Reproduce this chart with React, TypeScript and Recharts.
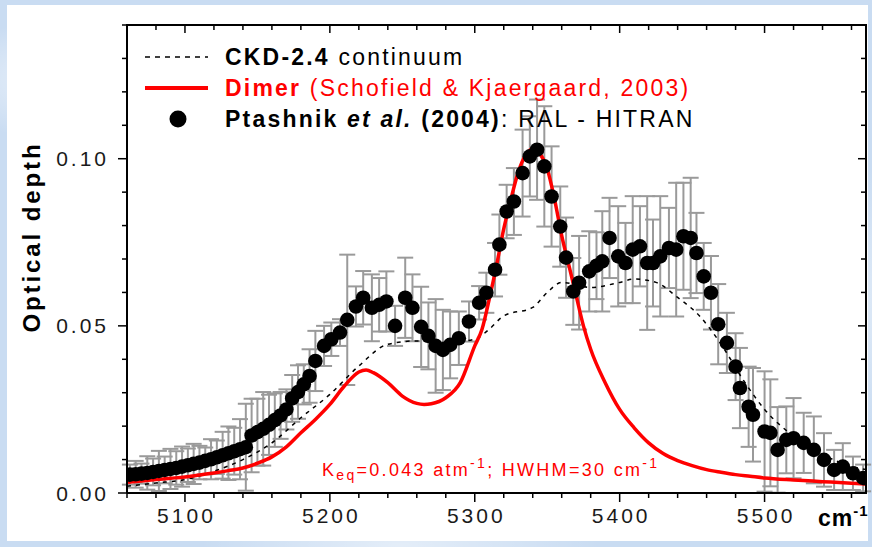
import React from 'react';
import { ComposedChart, Line, Scatter, XAxis, YAxis, ErrorBar } from 'recharts';

// Dimer band model (Schofield & Kjaergaard, 2003): wavenumber (cm-1) and optical depth
const dimerNu = [5060, 5070, 5080, 5090, 5100, 5110, 5120, 5130, 5140, 5150, 5160, 5170, 5180, 5190, 5200, 5210, 5220, 5225, 5230, 5240, 5250, 5260, 5265, 5270, 5280, 5290, 5300, 5305, 5310, 5315, 5320, 5325, 5330, 5335, 5340, 5345, 5350, 5355, 5360, 5365, 5370, 5375, 5380, 5390, 5400, 5410, 5420, 5430, 5440, 5450, 5460, 5470, 5480, 5490, 5500, 5520, 5540, 5560, 5570];
const dimerTau = [0.0032, 0.0036, 0.004, 0.0044, 0.0048, 0.0054, 0.006, 0.0067, 0.0075, 0.0089, 0.0108, 0.0138, 0.018, 0.022, 0.0265, 0.032, 0.0362, 0.0368, 0.036, 0.033, 0.029, 0.0268, 0.0265, 0.0267, 0.0285, 0.033, 0.044, 0.049, 0.058, 0.068, 0.079, 0.088, 0.096, 0.101, 0.103, 0.1015, 0.097, 0.088, 0.077, 0.068, 0.059, 0.05, 0.043, 0.033, 0.025, 0.0195, 0.015, 0.0118, 0.0097, 0.0082, 0.007, 0.0062, 0.0055, 0.005, 0.0045, 0.0039, 0.0034, 0.0029, 0.0027];

// CKD-2.4 continuum
const ckdNu = [5060, 5080, 5100, 5120, 5140, 5160, 5180, 5200, 5220, 5240, 5260, 5280, 5300, 5310, 5320, 5340, 5350, 5360, 5380, 5400, 5410, 5425, 5440, 5455, 5470, 5485, 5500, 5520, 5540, 5560, 5570];
const ckdTau = [0.002, 0.003, 0.004, 0.0065, 0.01, 0.015, 0.0225, 0.0295, 0.038, 0.0445, 0.0455, 0.045, 0.046, 0.049, 0.053, 0.0555, 0.06, 0.063, 0.0615, 0.063, 0.064, 0.063, 0.0585, 0.053, 0.0445, 0.034, 0.025, 0.017, 0.0115, 0.008, 0.007];

// Ptashnik et al. (2004): RAL - HITRAN retrieval with uncertainties
const ptNu = [5062, 5066, 5070, 5074, 5078, 5082, 5086, 5090, 5094, 5098, 5102, 5106, 5110, 5114, 5118, 5122, 5126, 5130, 5134, 5138, 5142, 5146, 5150, 5154, 5158, 5162, 5166, 5170, 5174, 5178, 5182, 5186, 5190, 5196, 5201, 5207, 5212, 5218, 5223, 5229, 5234, 5239, 5245, 5252, 5257, 5263, 5268, 5273, 5278, 5283, 5289, 5296, 5303, 5308, 5314, 5317, 5322, 5327, 5333, 5338, 5343, 5348, 5353, 5359, 5363, 5368, 5372, 5379, 5384, 5388, 5393, 5399, 5404, 5409, 5414, 5419, 5423, 5428, 5434, 5439, 5444, 5449, 5453, 5458, 5463, 5468, 5474, 5480, 5483, 5489, 5492, 5500, 5504, 5509, 5515, 5520, 5527, 5534, 5541, 5548, 5554, 5561, 5568];
const ptTau = [0.0055, 0.0056, 0.0058, 0.006, 0.0063, 0.0066, 0.0069, 0.0072, 0.0075, 0.0079, 0.0083, 0.0087, 0.0091, 0.0096, 0.0101, 0.0107, 0.0113, 0.0119, 0.0125, 0.0131, 0.0137, 0.0172, 0.0182, 0.0192, 0.0204, 0.0218, 0.0232, 0.025, 0.0283, 0.0302, 0.0325, 0.035, 0.0395, 0.044, 0.046, 0.048, 0.0518, 0.0558, 0.0584, 0.0554, 0.0563, 0.0573, 0.05, 0.0584, 0.0554, 0.0497, 0.047, 0.044, 0.0428, 0.0443, 0.0463, 0.0513, 0.0569, 0.0599, 0.0668, 0.0743, 0.0842, 0.0872, 0.0957, 0.1007, 0.1027, 0.0977, 0.0887, 0.0797, 0.0704, 0.0603, 0.0629, 0.0663, 0.068, 0.0693, 0.0763, 0.0708, 0.0688, 0.0728, 0.0738, 0.0688, 0.0688, 0.0708, 0.0733, 0.0728, 0.0768, 0.0763, 0.0718, 0.0648, 0.0599, 0.0505, 0.0449, 0.0378, 0.0314, 0.0258, 0.0234, 0.0184, 0.018, 0.0129, 0.0159, 0.0164, 0.015, 0.0129, 0.0099, 0.0069, 0.0079, 0.0059, 0.0045];
const ptErr = [0.003, 0.004, 0.003, 0.005, 0.004, 0.006, 0.004, 0.006, 0.005, 0.006, 0.005, 0.006, 0.005, 0.004, 0.006, 0.005, 0.007, 0.008, 0.007, 0.009, 0.013, 0.011, 0.01, 0.011, 0.009, 0.008, 0.007, 0.006, 0.007, 0.008, 0.006, 0.008, 0.009, 0.006, 0.005, 0.004, 0.0195, 0.006, 0.008, 0.01, 0.008, 0.009, 0.006, 0.012, 0.01, 0.012, 0.01, 0.014, 0.012, 0.01, 0.008, 0.006, 0.005, 0.006, 0.008, 0.009, 0.008, 0.01, 0.013, 0.012, 0.015, 0.018, 0.015, 0.012, 0.012, 0.01, 0.014, 0.012, 0.01, 0.015, 0.012, 0.015, 0.012, 0.016, 0.012, 0.02, 0.013, 0.018, 0.012, 0.02, 0.016, 0.018, 0.012, 0.01, 0.011, 0.012, 0.009, 0.01, 0.012, 0.012, 0.014, 0.018, 0.016, 0.0128, 0.01, 0.012, 0.009, 0.01, 0.008, 0.006, 0.007, 0.005, 0.004];

// Axis ticks
const xMajor = [5100, 5200, 5300, 5400, 5500];
const xTicks = [5060, 5080, 5100, 5120, 5140, 5160, 5180, 5200, 5220, 5240, 5260, 5280, 5300, 5320, 5340, 5360, 5380, 5400, 5420, 5440, 5460, 5480, 5500, 5520, 5540, 5560];
const yMajor = [0, 0.05, 0.1];
const yTicks = [0, 0.01, 0.02, 0.03, 0.04, 0.05, 0.06, 0.07, 0.08, 0.09, 0.1, 0.11, 0.12, 0.13, 0.14];
const yLabels = ['0.00', '0.05', '0.10'];

const FONT = '"Liberation Sans", Arial, sans-serif';
const X_MIN = 5060;
const X_MAX = 5570;
const Y_MIN = 0;
const Y_MAX = 0.14;

// Chart box and plot margins; the plot is the box minus the axis bands
const CHART_W = 872;
const CHART_H = 547;
const MARGIN = { top: 25, right: 6, bottom: 0, left: 0 };
const X_AXIS_H = 54;
const Y_AXIS_W = 127;
const PLOT_L = MARGIN.left + Y_AXIS_W;
const PLOT_T = MARGIN.top;
const PLOT_W = CHART_W - MARGIN.left - MARGIN.right - Y_AXIS_W;
const PLOT_H = CHART_H - MARGIN.top - MARGIN.bottom - X_AXIS_H;

const dimerData = dimerNu.map((nu, i) => ({ nu, tau: dimerTau[i] }));
const ckdData = ckdNu.map((nu, i) => ({ nu, tau: ckdTau[i] }));
const ptData = ptNu.map((nu, i) => ({ nu, tau: ptTau[i], err: ptErr[i] }));

const isMajorX = (v: number) => xMajor.includes(v);
const near = (a: number, b: number) => Math.abs(a - b) < 1e-9;
const isMajorY = (v: number) => yMajor.some((m) => near(m, v));

const BottomTick = (props: any) => {
  const { x, y, payload } = props;
  const major = isMajorX(payload.value);
  return (
    <g>
      <line x1={x} x2={x} y1={y} y2={Number(y) + (major ? 9 : 5)} stroke="#000" strokeWidth={1.5} />
      {major && (
        <text x={Number(x) + 1.5} y={Number(y) + 30} textAnchor="middle" fontFamily={FONT} fontSize={21} letterSpacing={3} fill="#1a1a1a">
          {payload.value}
        </text>
      )}
    </g>
  );
};

const LeftTick = (props: any) => {
  const { x, y, payload } = props;
  const idx = yMajor.findIndex((m) => near(m, payload.value));
  const major = idx >= 0;
  return (
    <g>
      <line x1={x} x2={Number(x) - (major ? 9 : 5)} y1={y} y2={y} stroke="#000" strokeWidth={1.5} />
      {major && (
        <text x={Number(x) - 18} y={y} dy="0.36em" textAnchor="end" fontFamily={FONT} fontSize={21} letterSpacing={3} fill="#1a1a1a">
          {yLabels[idx]}
        </text>
      )}
    </g>
  );
};

const Dot = (props: any) => {
  const { cx, cy } = props;
  if (cx == null || cy == null) return <g />;
  return <circle cx={cx} cy={cy} r={7.3} fill="#000" />;
};

const NoShape = () => <g />;

// Position of a tick on the top / right frame edges, in the plot's linear frame
const frameX = (v: number) => PLOT_L + ((v - X_MIN) / (X_MAX - X_MIN)) * PLOT_W;
const frameY = (v: number) => PLOT_T + PLOT_H - ((v - Y_MIN) / (Y_MAX - Y_MIN)) * PLOT_H;

// Box frame (top and right edges with inward ticks), legend, annotation and axis titles
const Overlay = () => (
  <svg width={CHART_W} height={CHART_H} style={{ position: 'absolute', left: 0, top: 0, pointerEvents: 'none' }}>
    <g stroke="#000" fill="none">
      <polyline points={`${PLOT_L - 1},${PLOT_T} ${PLOT_L + PLOT_W},${PLOT_T} ${PLOT_L + PLOT_W},${PLOT_T + PLOT_H + 1}`} strokeWidth={2} />
      {xTicks.map((v) => (
        <line key={`t${v}`} x1={frameX(v)} x2={frameX(v)} y1={PLOT_T} y2={PLOT_T + (isMajorX(v) ? 8 : 5)} strokeWidth={1.5} />
      ))}
      {yTicks.map((v) => (
        <line key={`r${v}`} x1={PLOT_L + PLOT_W} x2={PLOT_L + PLOT_W - (isMajorY(v) ? 8 : 5)} y1={frameY(v)} y2={frameY(v)} strokeWidth={1.5} />
      ))}
    </g>
    <g fontFamily={FONT} fontSize={23} letterSpacing={2.2}>
      <line x1={145} x2={208} y1={57} y2={57} stroke="#000" strokeWidth={1.6} strokeDasharray="5 5" />
      <text x={225} y={65} fill="#000">
        <tspan fontWeight="bold">CKD-2.4</tspan>
        <tspan> continuum</tspan>
      </text>
      <line x1={145} x2={208} y1={88} y2={88} stroke="#ff0000" strokeWidth={4} />
      <text x={225} y={96} fill="#ff0000">
        <tspan fontWeight="bold">Dimer</tspan>
        <tspan> (Schofield &amp; Kjaergaard, 2003)</tspan>
      </text>
      <circle cx={178} cy={119} r={8.5} fill="#000" />
      <text x={225} y={127} fill="#000">
        <tspan fontWeight="bold">Ptashnik </tspan>
        <tspan fontWeight="bold" fontStyle="italic">et al.</tspan>
        <tspan fontWeight="bold"> (2004)</tspan>
        <tspan>:  RAL - HITRAN</tspan>
      </text>
    </g>
    <text x={322} y={476} fontFamily={FONT} fontSize={18} letterSpacing={2.3} fill="#ff0000">
      <tspan>K</tspan>
      <tspan fontSize={14} dy={4}>eq</tspan>
      <tspan dy={-4}>=0.043 atm</tspan>
      <tspan fontSize={14} dy={-8}>-1</tspan>
      <tspan dy={8}>; HWHM=30 cm</tspan>
      <tspan fontSize={14} dy={-8}>-1</tspan>
    </text>
    <text x={32} y={237} transform="rotate(-90 32 237)" textAnchor="middle" fontFamily={FONT} fontSize={24} fontWeight="bold" letterSpacing={2.9} fill="#000" dy="0.35em">
      Optical depth
    </text>
    <text x={818} y={526} fontFamily={FONT} fontSize={23} fontWeight="bold" letterSpacing={1} fill="#000">
      cm<tspan fontSize={15} dy={-10}>-1</tspan>
    </text>
  </svg>
);

export default function App() {
  return (
    <div
      style={{
        position: 'absolute',
        left: 0,
        top: 0,
        width: CHART_W,
        height: CHART_H,
        overflow: 'hidden',
        background:
          'radial-gradient(ellipse 120px 60px at 60px 80px, rgba(255,255,255,0.6), transparent), radial-gradient(ellipse 90px 140px at 840px 300px, rgba(255,255,255,0.5), transparent), radial-gradient(ellipse 200px 40px at 400px 545px, rgba(255,255,255,0.5), transparent), #c9dcf2',
      }}
    >
      <div style={{ position: 'absolute', left: 7, top: 5, width: 861, height: 536, background: '#fff' }} />
      <div style={{ position: 'absolute', left: 0, top: 0 }}>
        <ComposedChart width={CHART_W} height={CHART_H} margin={MARGIN}>
          <XAxis
            xAxisId="b"
            type="number"
            dataKey="nu"
            orientation="bottom"
            domain={[X_MIN, X_MAX]}
            allowDataOverflow
            ticks={xTicks}
            interval={0}
            height={X_AXIS_H}
            tickSize={0}
            tickMargin={0}
            tick={BottomTick}
            tickLine={false}
            axisLine={{ stroke: '#000', strokeWidth: 2 }}
          />
          <YAxis
            yAxisId="l"
            type="number"
            dataKey="tau"
            orientation="left"
            domain={[Y_MIN, Y_MAX]}
            allowDataOverflow
            ticks={yTicks}
            interval={0}
            width={Y_AXIS_W}
            tickSize={0}
            tickMargin={0}
            tick={LeftTick}
            tickLine={false}
            axisLine={{ stroke: '#000', strokeWidth: 2 }}
          />
          <Scatter
            name="errors"
            data={ptData}
            xAxisId="b"
            yAxisId="l"
            dataKey="tau"
            shape={NoShape}
            isAnimationActive={false}
            legendType="none"
          >
            <ErrorBar dataKey="err" direction="y" width={8} stroke="#9a9a9a" strokeWidth={2} isAnimationActive={false} />
          </Scatter>
          <Line
            name="CKD-2.4 continuum"
            data={ckdData}
            xAxisId="b"
            yAxisId="l"
            dataKey="tau"
            type="monotone"
            stroke="#000"
            strokeWidth={1.5}
            strokeDasharray="4 5"
            dot={false}
            isAnimationActive={false}
          />
          <Line
            name="Dimer"
            data={dimerData}
            xAxisId="b"
            yAxisId="l"
            dataKey="tau"
            type="monotone"
            stroke="#ff0000"
            strokeWidth={3.5}
            dot={false}
            isAnimationActive={false}
          />
          <Scatter
            name="Ptashnik et al. (2004)"
            data={ptData}
            xAxisId="b"
            yAxisId="l"
            dataKey="tau"
            shape={Dot}
            isAnimationActive={false}
          />
        </ComposedChart>
      </div>
      <Overlay />
    </div>
  );
}
